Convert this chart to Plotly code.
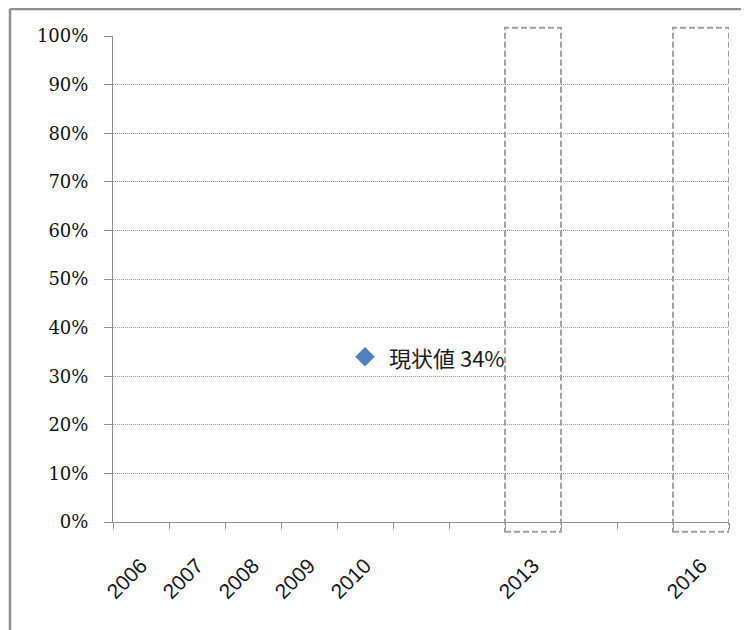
import plotly.graph_objects as go

# ---- data ----
categories = ["2006", "2007", "2008", "2009", "2010", "2011", "2012",
              "2013", "2014", "2015", "2016"]
x_tick_labels = ["2006", "2007", "2008", "2009", "2010", "", "",
                 "2013", "", "", "2016"]
point_category = ["2010"]
point_value = [0.34]
point_label = ["現状値"]
highlight_years = ["2013", "2016"]
y_tick_values = [0, 0.1, 0.2, 0.3, 0.4, 0.5, 0.6, 0.7, 0.8, 0.9, 1.0]
y_tick_labels = ["0%", "10%", "20%", "30%", "40%", "50%", "60%", "70%", "80%", "90%", "100%"]

fig = go.Figure()

fig.add_trace(go.Scatter(
    x=point_category, y=point_value, mode="markers",
    marker=dict(symbol="diamond", size=15, color="#4f81bd", line=dict(width=0)),
    hoverinfo="skip", showlegend=False,
))

for cat, val, lab in zip(point_category, point_value, point_label):
    fig.add_annotation(
        x=categories.index(cat), y=val, xref="x", yref="y",
        text=f"{lab} {round(val * 100)}%", showarrow=False,
        xanchor="left", yanchor="middle", xshift=22, yshift=0,
        font=dict(family="Noto Sans CJK JP", size=22, color="#1a1a1a"),
    )

# dashed highlight boxes around target years
for yr in highlight_years:
    idx = categories.index(yr)
    fig.add_shape(
        type="rect", xref="x", yref="paper",
        x0=idx - 0.5, x1=idx + 0.5, y0=-0.02, y1=1.017,
        line=dict(color="#a0a0a0", width=2, dash="6px,3px"),
        fillcolor="rgba(0,0,0,0)", layer="above",
    )

# outer frame (left and top edges)
fig.add_shape(type="line", xref="paper", yref="paper",
              x0=-0.1672, x1=-0.1672, y0=-0.23, y1=1.0556,
              line=dict(color="#909090", width=2.5))
fig.add_shape(type="line", xref="paper", yref="paper",
              x0=-0.1672, x1=1.04, y0=1.0556, y1=1.0556,
              line=dict(color="#909090", width=2.5))

fig.update_layout(
    width=741, height=622,
    margin=dict(l=105, r=20, t=28, b=108),
    paper_bgcolor="white", plot_bgcolor="white",
    showlegend=False,
    xaxis=dict(
        type="category", categoryorder="array", categoryarray=categories,
        range=[-0.5, len(categories) - 0.5],
        tickmode="array", tickvals=categories, ticktext=x_tick_labels,
        tickson="boundaries", ticks="outside", ticklen=6, tickcolor="#909090",
        tickangle=-45, ticklabelstandoff=22,
        tickfont=dict(family="Liberation Sans", size=21, color="#1a1a1a"),
        showline=True, linecolor="#909090", linewidth=1,
        showgrid=False, zeroline=False,
    ),
    yaxis=dict(
        range=[0, 1], tickmode="array", tickvals=y_tick_values, ticktext=y_tick_labels,
        ticks="outside", ticklen=8, tickcolor="#909090", ticklabelstandoff=12,
        tickfont=dict(family="DejaVu Serif", size=18, color="#111111"),
        showline=True, linecolor="#909090", linewidth=1,
        showgrid=True, gridcolor="#999999", gridwidth=1, griddash="1px,1px",
        zeroline=False,
    ),
)

fig.write_html("out.html")
